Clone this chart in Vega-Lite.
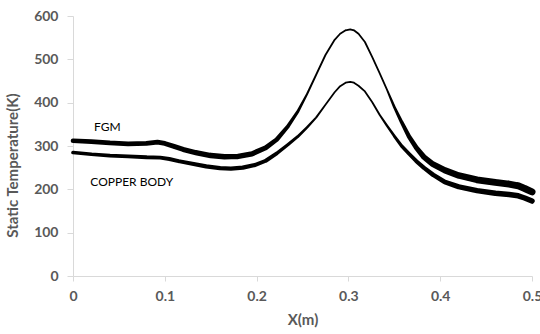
{
  "$schema": "https://vega.github.io/schema/vega-lite/v6.json",
  "width": 459,
  "height": 260,
  "autosize": "none",
  "padding": {"left": 73, "top": 16, "right": 8, "bottom": 58},
  "background": "white",
  "config": {"view": {"stroke": null}, "font": "Lato"},
  "data": {"values": [
    {"series": "FGM", "x": 0.000, "T": 312},
    {"series": "FGM", "x": 0.020, "T": 310},
    {"series": "FGM", "x": 0.040, "T": 307},
    {"series": "FGM", "x": 0.060, "T": 305},
    {"series": "FGM", "x": 0.080, "T": 306},
    {"series": "FGM", "x": 0.092, "T": 309},
    {"series": "FGM", "x": 0.100, "T": 306},
    {"series": "FGM", "x": 0.110, "T": 299},
    {"series": "FGM", "x": 0.120, "T": 292},
    {"series": "FGM", "x": 0.135, "T": 284},
    {"series": "FGM", "x": 0.150, "T": 278},
    {"series": "FGM", "x": 0.165, "T": 275},
    {"series": "FGM", "x": 0.180, "T": 276},
    {"series": "FGM", "x": 0.195, "T": 282},
    {"series": "FGM", "x": 0.210, "T": 296},
    {"series": "FGM", "x": 0.222, "T": 315},
    {"series": "FGM", "x": 0.234, "T": 345},
    {"series": "FGM", "x": 0.245, "T": 380},
    {"series": "FGM", "x": 0.255, "T": 420},
    {"series": "FGM", "x": 0.265, "T": 465},
    {"series": "FGM", "x": 0.275, "T": 510},
    {"series": "FGM", "x": 0.285, "T": 545},
    {"series": "FGM", "x": 0.291, "T": 559},
    {"series": "FGM", "x": 0.297, "T": 567},
    {"series": "FGM", "x": 0.302, "T": 569},
    {"series": "FGM", "x": 0.306, "T": 567},
    {"series": "FGM", "x": 0.311, "T": 559},
    {"series": "FGM", "x": 0.318, "T": 540},
    {"series": "FGM", "x": 0.326, "T": 505},
    {"series": "FGM", "x": 0.334, "T": 468},
    {"series": "FGM", "x": 0.342, "T": 430},
    {"series": "FGM", "x": 0.350, "T": 390},
    {"series": "FGM", "x": 0.358, "T": 355},
    {"series": "FGM", "x": 0.366, "T": 322},
    {"series": "FGM", "x": 0.374, "T": 296},
    {"series": "FGM", "x": 0.382, "T": 275},
    {"series": "FGM", "x": 0.392, "T": 258},
    {"series": "FGM", "x": 0.405, "T": 244},
    {"series": "FGM", "x": 0.420, "T": 232},
    {"series": "FGM", "x": 0.440, "T": 222},
    {"series": "FGM", "x": 0.460, "T": 216},
    {"series": "FGM", "x": 0.475, "T": 212},
    {"series": "FGM", "x": 0.485, "T": 208},
    {"series": "FGM", "x": 0.492, "T": 202},
    {"series": "FGM", "x": 0.500, "T": 194},
    {"series": "Copper Body", "x": 0.000, "T": 285},
    {"series": "Copper Body", "x": 0.020, "T": 281},
    {"series": "Copper Body", "x": 0.040, "T": 278},
    {"series": "Copper Body", "x": 0.060, "T": 276},
    {"series": "Copper Body", "x": 0.080, "T": 274},
    {"series": "Copper Body", "x": 0.095, "T": 273},
    {"series": "Copper Body", "x": 0.105, "T": 270},
    {"series": "Copper Body", "x": 0.115, "T": 265},
    {"series": "Copper Body", "x": 0.130, "T": 259},
    {"series": "Copper Body", "x": 0.145, "T": 253},
    {"series": "Copper Body", "x": 0.160, "T": 249},
    {"series": "Copper Body", "x": 0.172, "T": 248},
    {"series": "Copper Body", "x": 0.185, "T": 250},
    {"series": "Copper Body", "x": 0.198, "T": 256},
    {"series": "Copper Body", "x": 0.210, "T": 266},
    {"series": "Copper Body", "x": 0.222, "T": 283},
    {"series": "Copper Body", "x": 0.234, "T": 303},
    {"series": "Copper Body", "x": 0.245, "T": 322},
    {"series": "Copper Body", "x": 0.255, "T": 343},
    {"series": "Copper Body", "x": 0.265, "T": 366},
    {"series": "Copper Body", "x": 0.275, "T": 395},
    {"series": "Copper Body", "x": 0.285, "T": 424},
    {"series": "Copper Body", "x": 0.291, "T": 438},
    {"series": "Copper Body", "x": 0.297, "T": 446},
    {"series": "Copper Body", "x": 0.302, "T": 448},
    {"series": "Copper Body", "x": 0.306, "T": 446},
    {"series": "Copper Body", "x": 0.311, "T": 439},
    {"series": "Copper Body", "x": 0.318, "T": 426},
    {"series": "Copper Body", "x": 0.326, "T": 401},
    {"series": "Copper Body", "x": 0.334, "T": 372},
    {"series": "Copper Body", "x": 0.342, "T": 347},
    {"series": "Copper Body", "x": 0.350, "T": 323},
    {"series": "Copper Body", "x": 0.358, "T": 300},
    {"series": "Copper Body", "x": 0.366, "T": 282},
    {"series": "Copper Body", "x": 0.374, "T": 265},
    {"series": "Copper Body", "x": 0.382, "T": 250},
    {"series": "Copper Body", "x": 0.392, "T": 234},
    {"series": "Copper Body", "x": 0.405, "T": 217},
    {"series": "Copper Body", "x": 0.420, "T": 206},
    {"series": "Copper Body", "x": 0.440, "T": 197},
    {"series": "Copper Body", "x": 0.460, "T": 191},
    {"series": "Copper Body", "x": 0.475, "T": 188},
    {"series": "Copper Body", "x": 0.485, "T": 185},
    {"series": "Copper Body", "x": 0.492, "T": 180},
    {"series": "Copper Body", "x": 0.500, "T": 173}
  ]},
  "encoding": {
    "x": {
      "field": "x", "type": "quantitative",
      "scale": {"domain": [0, 0.5], "nice": false, "zero": false},
      "axis": {
        "values": [0, 0.1, 0.2, 0.3, 0.4, 0.5], "format": "~g",
        "grid": false, "domainColor": "#d9d9d9", "tickColor": "#d9d9d9", "tickSize": 5,
        "labelFont": "Lato", "labelFontSize": 14, "labelFontWeight": "bold", "labelColor": "#595959",
        "labelPadding": 8, "labelFlush": false, "labelOverlap": false,
        "title": "X(m)", "titleFont": "Lato", "titleFontSize": 15, "titleFontWeight": "bold", "titleColor": "#595959",
        "titlePadding": 9
      }
    },
    "y": {
      "field": "T", "type": "quantitative",
      "scale": {"domain": [0, 600], "nice": false},
      "axis": {
        "values": [0, 100, 200, 300, 400, 500, 600],
        "grid": false, "domainColor": "#d9d9d9", "tickColor": "#d9d9d9", "tickSize": 6,
        "labelFont": "Lato", "labelFontSize": 14, "labelFontWeight": "bold", "labelColor": "#595959",
        "labelPadding": 9,
        "title": "Static Temperature(K)", "titleFont": "Lato", "titleFontSize": 15, "titleFontWeight": "bold", "titleColor": "#595959",
        "titleX": -53, "titleY": 149
      }
    }
  },
  "layer": [
    {
      "transform": [{"filter": "datum.series === 'FGM'"}],
      "mark": {"type": "trail", "color": "black"},
      "encoding": {"size": {"field": "T", "type": "quantitative", "scale": {"domain": [210, 430], "range": [7, 1.8], "zero": false, "clamp": true}, "legend": null}}
    },
    {
      "transform": [{"filter": "datum.series === 'Copper Body'"}],
      "mark": {"type": "trail", "color": "black"},
      "encoding": {"size": {"field": "T", "type": "quantitative", "scale": {"domain": [185, 380], "range": [5.5, 1.8], "zero": false, "clamp": true}, "legend": null}}
    },
    {
      "data": {"values": [
        {"x": 0.0375, "T": 343, "label": "FGM"},
        {"x": 0.064, "T": 217, "label": "COPPER BODY"}
      ]},
      "mark": {"type": "text", "font": "Lato", "fontSize": 12, "color": "black"},
      "encoding": {"text": {"field": "label"}}
    }
  ],
  "resolve": {"scale": {"size": "independent"}}
}
